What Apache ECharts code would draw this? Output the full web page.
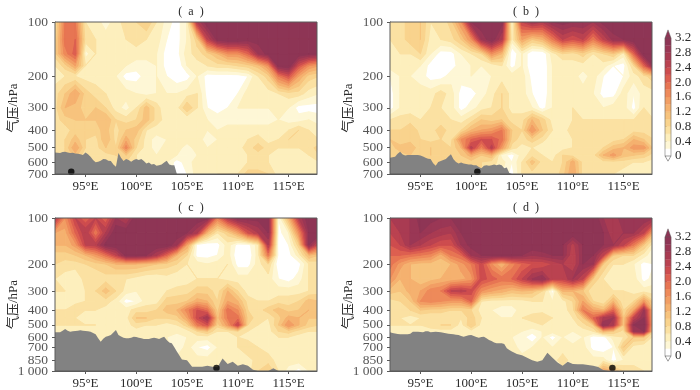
<!DOCTYPE html>
<html>
<head>
<meta charset="utf-8">
<style>html,body{margin:0;background:#fff}#chart{width:700px;height:390px}</style>
<script src="https://cdn.jsdelivr.net/npm/echarts@6/dist/echarts.min.js"></script>
</head>
<body>
<div id="chart"></div>
<script>
const lons=[92,93,94,95,96,97,98,99,100,101,102,103,104,105,106,107,108,109,110,111,112,113,114,115,116,117,118]
const pUpper=[100,125,150,175,200,250,300,350,400,450,500,550,600,700]
const pLower=[100,125,150,175,200,250,300,350,400,450,500,550,600,700,850,1000]
const xTicks=[95,100,105,110,115]
const yTicksUpper=[100,200,300,400,500,600,700]
const yTicksLower=[100,200,300,400,500,600,700,850,1000]
const levels=[0,.2,.4,.6,.8,1,1.2,1.4,1.6,1.8,2,2.2,2.4,2.6,2.8,3]
const bandColors=['#ffffff','#fef7d6','#fdefbd','#fbe1a2','#f9d38d','#f7c37d','#f5b16f','#f29e64','#ee8a5a','#e77553','#dd5f50','#cd4c4e','#ba4250','#a93b52','#9a3755','#8e3555']

// 每行一个气压层，每列一个经度
const gridA=[
[.7,1.8,1.8,.6,.5,.3,.5,.7,.8,1.0,.6,.3,.1,.4,2.6,3.2,3.2,3.2,3.2,3.2,3.2,3.2,3.2,3.2,3.2,3.2,3.2],
[.8,1.9,2.0,.7,.6,.5,.5,.6,.7,.6,.5,.2,.1,.4,.9,2.4,3.1,3.2,3.2,3.1,3.1,3.2,3.2,3.2,3.2,3.2,3.2],
[.9,1.7,2.1,.3,.6,.4,.4,.4,.5,.5,.4,.1,.1,.5,.7,.9,1.2,1.6,1.6,2,2.8,3.1,3.2,3.2,3.2,3.1,3.0],
[.6,.9,1.4,.6,.5,.4,.4,.4,.3,.3,.4,.1,0,.4,.5,.6,.7,.7,.8,.9,1.1,1.6,3.1,3.2,2.2,1.6,1.4],
[.5,.6,.6,.5,.5,.5,.4,.1,.1,.3,.4,.2,.05,.1,.4,.1,.1,.1,.1,.2,.6,.9,1.8,2.2,1.4,.9,.8],
[.7,1.0,1.4,.9,.7,.6,.5,.5,.4,.3,.4,.4,.4,.5,.6,.1,.05,.1,.2,.5,.5,.5,.6,.7,.7,.5,.4],
[.7,1.2,1.1,.9,1.0,.8,.5,.3,.6,1.1,.7,.4,.5,1.0,.6,.2,.1,.2,.4,.4,.4,.4,.5,.4,.1,.1,.1],
[.7,.9,1.0,1.0,1.0,1.2,.8,.7,.8,1.1,.7,.5,.4,.4,.4,.4,.3,.3,.3,.3,.3,.3,.4,.3,.3,.4,.3],
[.7,.7,.9,.8,.9,1.1,.7,1.0,1.1,.6,.5,.4,.5,.4,.4,.4,.4,.5,.5,.5,.5,.5,.5,.6,.8,.6,.5],
[.6,.8,1.1,.8,.7,1.2,.7,1.3,.9,.5,.3,.4,.5,.5,.5,.3,.4,.5,.5,.6,.7,.5,.6,.8,.6,.6,.6],
[.7,.8,1.4,.8,.7,1.0,.8,1.7,.8,.5,.3,.5,.5,.3,.5,.4,.5,.5,.5,.7,.9,.7,.6,.6,.6,.7,.9],
[.7,.8,1.1,.6,.6,.7,.8,1.0,.6,.5,.4,.5,.4,.3,.4,.4,.5,.5,.5,.6,.7,.6,.5,.5,.5,.6,.8],
[.7,.8,1.0,.6,.6,.7,.7,.8,.6,.5,.4,.4,.1,.3,.5,.5,.5,.5,.5,.6,.6,.6,.5,.5,.5,.5,.6],
[.7,.8,.9,.6,.6,.7,.7,.7,.6,.5,.4,.4,0,.2,.5,.5,.6,.6,.6,.9,.9,.8,.5,.5,.5,.5,.5]
]
const gridB=[
[.8,.7,.9,1.0,.6,.6,.9,1.6,3.0,3.2,3.2,3.1,.3,2.4,2.8,2.6,3.0,3.1,3.0,3.0,2.8,3.1,3.2,3.2,3.2,3.2,3.2],
[.6,.7,.9,1.0,.5,.6,.7,1.0,1.6,2.8,3.2,2.6,.5,1.4,1.0,1.2,1.8,2.4,2.2,2.4,1.8,2.4,2.9,3.0,3.2,3.2,3.2],
[.5,.6,.6,.8,.4,.1,.1,.4,.6,.8,1.6,1.2,0,.4,0,0,.5,.8,.7,.9,.6,.8,1.0,.5,2.0,3.2,3.2],
[.5,.5,.4,.4,.1,0,.1,.3,.4,.4,.4,.6,.1,.4,0,0,.4,.4,.5,.5,.4,.5,.2,.1,.8,2.0,3.1],
[.2,.4,.4,.3,.1,.1,.3,.3,.4,.2,.4,.5,.5,.5,.1,0,.4,.5,.5,.3,.5,.2,0,.2,.5,.7,1.0],
[.1,.4,.5,.5,.5,.7,.5,.1,.1,.3,.5,.8,.5,.5,.2,0,.4,.5,.5,.5,.4,.1,.1,.5,.2,.5,.5],
[.1,.4,.5,.5,.6,.6,.5,.1,.3,.5,.6,.8,.5,.5,.4,.1,.4,.5,.6,.5,.5,.4,.5,.5,.1,.6,.5],
[.6,.7,.7,.6,.6,.7,.6,.5,.7,1.0,.9,1.0,.7,.7,1.2,.9,.5,.5,.6,.6,.6,.6,.6,.6,.6,.6,.6],
[.8,.8,1.0,.7,.7,.9,.7,.8,1.2,1.4,1.5,1.8,1.0,.8,1.6,1.0,.6,.5,.7,.7,.6,.6,.7,.7,.7,.7,.7],
[1.0,.8,.9,.8,.7,.8,.7,1.6,2.0,2.2,2.2,1.9,.9,.7,.9,.7,.4,.5,.6,.6,.7,.7,.7,.8,1.2,1.0,.8],
[.9,1.1,1.2,.8,1.0,.8,.8,1.2,2.5,1.7,2.5,1.5,.7,.5,.6,.4,.5,.5,.6,.6,.7,.8,1.1,1.2,1.5,1.5,.9],
[.8,.9,1.0,.8,1.0,.8,.8,1.0,1.3,1.0,1.2,.3,.1,.5,.7,.6,.5,.8,.7,.6,.7,1.2,1.5,1.1,1.0,.9,.7],
[.8,.8,.9,.8,.8,.8,.8,.8,.9,.8,.7,.5,.2,.6,1.1,.7,.6,.8,1.3,.7,.6,.7,.7,.7,.6,.6,.5],
[.8,.8,.8,.8,.8,.8,.8,.8,.8,.8,.6,.4,.1,.6,.7,.6,.6,.9,1.4,.7,.6,.6,.6,.5,.5,.5,.5]
]
const gridC=[
[2.6,1.6,2.4,2.0,2.4,2.0,2.8,2.5,3.2,3.2,3.2,3.2,3.2,3.2,3.2,3.1,1.8,2.6,3.1,3.1,3.1,3.0,.2,1.2,2.6,3.2,3.2],
[1.4,1.3,2.0,2.6,1.8,2.6,3.2,3.2,3.2,3.2,3.2,3.2,3.2,3.0,2.6,1.2,.6,.9,1.4,2.2,2.6,3.0,.1,.4,1.6,3.0,3.2],
[1.2,1.2,1.5,2.4,2.5,3.1,3.2,3.2,3.2,3.2,3.2,3.2,2.8,1.4,.1,0,.1,.5,.1,.1,.5,2.6,0,.2,.9,3.0,2.2],
[.9,.9,1.0,1.2,1.5,1.9,2.4,3.1,3.1,3.0,2.6,2.0,1.2,.8,.1,.1,.2,.5,0,0,.5,1.8,.1,.1,.5,1.2,1.0],
[.8,.7,.7,.8,.9,1.0,1.2,1.2,1.2,1.1,1.0,.9,.8,.6,.5,.4,.5,.6,.1,.1,.5,.8,0,0,.1,.6,.7],
[.6,.5,.4,.7,.6,.7,.6,.6,.5,.4,.4,.5,.4,.5,.6,.6,.6,.5,.5,.5,.5,.5,.2,.1,.3,.6,.7],
[.6,.6,.5,.6,.8,1.1,.8,.5,.4,.4,.5,.6,.7,.7,.9,.9,.7,1.2,.8,.5,.5,.5,.5,.5,.5,.6,.7],
[.5,.5,.5,.6,.7,.7,.5,.1,.2,.5,.5,.9,.9,1.0,1.3,1.2,.8,1.4,1.2,.7,.6,.6,.7,.7,.8,1.1,1.0],
[.6,.6,.8,.6,.6,.5,.4,.5,.7,.7,.8,1.1,1.2,1.7,2.2,1.9,.9,1.9,1.6,.8,.7,.9,1.1,.9,1.0,1.2,1.1],
[.6,.6,.6,.5,.5,.5,.5,.5,1.0,1.0,.8,.8,.9,1.4,2.3,2.8,1.1,1.8,1.9,.9,.7,.6,.9,1.3,1.2,1.0,1.0],
[.6,.6,.6,.6,.6,.5,.5,.5,.7,.6,.6,.5,.6,.9,1.8,2.2,.9,1.5,2.4,.8,.6,.5,1.0,1.6,1.2,.9,.8],
[.5,.5,.5,.5,.5,.5,.5,.5,.5,.5,.5,.5,.5,.5,.8,1.0,.6,.6,.8,.6,.5,.5,.8,.9,.7,.6,.6],
[.5,.5,.5,.5,.5,.5,.5,.5,.5,.5,.5,.4,.2,.4,.5,.5,.5,.5,.6,.5,.5,.5,.6,.6,.5,.5,.5],
[.5,.5,.5,.5,.5,.5,.5,.5,.5,.5,.5,.5,.2,.5,.2,.1,.4,.5,.6,.8,.6,.5,.5,.5,.5,.5,.5],
[.5,.5,.5,.5,.5,.5,.5,.5,.5,.5,.5,.5,.5,.5,.5,.5,.5,.5,.5,.5,.7,.7,.5,.5,.5,.5,.5],
[.5,.5,.5,.5,.5,.5,.5,.5,.5,.5,.5,.5,.5,.5,.5,.5,.5,.5,.5,.5,.8,1.0,.6,.3,.1,.4,.4]
]
const gridD=[
[2.6,2.6,2.8,3.1,3.1,3.0,3.0,3.1,3.2,3.2,3.2,3.2,3.2,3.2,3.2,3.2,3.2,3.2,3.2,3.2,3.2,2.8,2.6,3.0,2.9,3.0,2.8],
[2.4,2.6,2.8,3.0,2.8,2.7,2.6,3.0,3.2,3.2,3.2,3.2,3.2,3.2,3.2,3.2,3.2,3.2,3.2,3.0,3.1,3.0,2.6,2.8,2.8,2.4,1.2],
[2.2,2.4,2.8,2.6,2.4,2.2,2.2,2.8,3.1,3.2,3.2,3.2,3.2,3.2,3.2,3.2,3.1,3.0,2.5,3.0,3.1,3.0,2.8,2.4,1.8,1.0,.4],
[2.0,2.0,1.9,1.8,1.7,1.3,1.8,2.0,2.8,3.0,3.1,3.1,3.1,3.0,2.8,2.9,3.0,3.0,2.4,3.0,3.0,2.4,1.0,.8,.8,.5,.2],
[1.9,1.5,1.2,1.1,1.1,1.0,1.2,1.5,1.8,2.3,1.6,1.2,1.7,2.0,2.2,2.2,2.4,2.6,2.4,3.0,2.8,1.0,.6,.6,.4,.1,.2],
[1.6,1.2,1.2,1.0,1.1,1.2,1.2,1.3,1.5,2.3,2.1,1.9,2.0,2.4,2.8,3.0,2.4,2.4,2.8,2.4,1.0,.6,.5,.5,.5,.1,.3],
[1.1,1.0,1.3,1.4,1.7,1.8,2.4,2.5,2.3,1.6,1.4,1.3,1.1,1.2,1.1,.8,.1,1.2,1.2,1.0,.6,.6,.6,.6,.5,.5,.5],
[.7,.8,1.0,1.6,1.7,1.6,1.5,1.5,2.0,.6,.5,.5,.5,.5,.6,.6,.4,.5,.8,1.4,.8,.6,1.2,.6,.8,1.5,.8],
[.7,.7,.8,1.0,.9,.9,.8,.8,.8,.5,.4,.3,.3,.5,.5,.5,.4,.5,.7,1.8,1.4,1.2,2.0,.8,1.4,2.8,1.0],
[.6,.6,.5,.6,.6,.6,.6,.6,.9,.6,.4,.4,.4,.6,.7,.8,.6,.4,.6,1.0,2.0,2.6,2.8,1.0,2.4,3.0,1.0],
[.6,.6,.6,.6,.7,.8,.8,.5,1.0,.5,.4,.5,.5,.5,.5,.6,.5,.4,.5,.7,1.0,3.0,2.6,1.0,3.0,3.2,1.0],
[.5,.5,.5,.5,.5,.5,.5,.5,.5,.5,.5,.5,.5,.4,.3,.4,.5,.4,.4,.5,.6,1.2,1.0,.7,2.8,3.0,.8],
[.5,.5,.5,.5,.5,.5,.5,.5,.5,.5,.5,.4,.4,.3,0,.4,.1,.4,.2,.4,.1,.1,.5,.6,1.0,1.0,.5],
[.5,.5,.5,.5,.5,.5,.5,.5,.5,.5,.5,.5,.5,.3,.4,.4,.4,.5,.5,.5,.1,0,.2,1.0,.5,.4,.4],
[.5,.5,.5,.5,.5,.5,.5,.5,.5,.5,.5,.5,.5,.5,.5,.5,.5,.7,.5,.5,.5,.5,.1,.4,.5,.5,.5],
[.5,.5,.5,.5,.5,.5,.5,.5,.5,.5,.5,.5,.5,.5,.5,.5,.5,.5,.5,.5,.5,1.4,1.2,.8,.7,.6,.5]
]

// 地形气压：105°E 以西每 0.25° 一个值
const terrainLonsWest=[92,92.25,92.5,92.75,93,93.25,93.5,93.75,94,94.25,94.5,94.75,95,95.25,95.5,95.75,96,96.25,96.5,96.75,97,97.25,97.5,97.75,98,98.25,98.5,98.75,99,99.25,99.5,99.75,100,100.25,100.5,100.75,101,101.25,101.5,101.75,102,102.25,102.5,102.75,103,103.25,103.5,103.75]
const terrainLonsAB=[...terrainLonsWest,104,118]
const terrainLonsCD=[...terrainLonsWest,104,104.5,105,105.5,106,106.5,107,107.5,108,108.5,109,109.5,110,110.5,111,111.5,112,112.5,113,113.5,114,118]
const terrainA=[531,533,535,528,526,531,535,533,538,540,544,549,531,544,561,585,603,598,590,578,580,590,593,620,637,535,568,593,578,585,598,585,578,585,578,593,611,605,620,615,629,625,620,605,590,620,625,625,700,700]
const terrainB=[568,565,561,540,526,545,553,549,549,549,549,549,553,560,568,575,578,610,629,600,593,585,578,560,544,580,600,611,605,611,615,620,620,625,625,640,651,630,625,630,625,620,625,619,625,650,645,690,700,700]
const terrainC=[559,559,559,545,531,545,553,550,548,545,542,545,548,550,553,565,576,610,643,615,597,590,582,560,540,582,595,606,610,612,606,597,600,606,612,618,618,618,612,606,612,618,606,597,627,650,659,700,747,840,850,937,937,937,925,937,945,827,900,869,925,905,925,980,1000,1000,1000,960,1000,1000]
const terrainD=[559,565,568,573,576,576,576,576,570,553,553,553,556,559,550,550,559,556,553,556,559,562,567,570,573,576,580,582,590,597,590,585,582,590,600,606,600,597,612,627,637,650,659,659,659,665,711,730,747,775,790,820,850,869,850,760,820,880,925,869,900,905,905,914,925,940,985,1000,1000,1000]

const dotLons=[93.6,100.6,107.9,113.9]
const dotPress=[680,680,955,955]
const panelNames=['(  a  )','(  b  )','(  c  )','(  d  )']
const panelLeft=[55,390,55,390]
const panelTop=[22,22,218,218]
const panelHeight=[152,152,153,153]
const panelWidth=262
const serif='"Liberation Serif","Noto Sans CJK SC",serif'
const textColor='#2b2b2b'
const lineColor='#5a5a5a'

function clipCell(pts,vals,level){
    const out=[]
    for(let i=0;i<4;i++){
        const j=(i+1)%4
        const a=pts[i],b=pts[j],va=vals[i],vb=vals[j]
        if(va>=level) out.push(a)
        if((va>=level)!==(vb>=level)){
            const t=(level-va)/(vb-va)
            out.push([a[0]+(b[0]-a[0])*t,a[1]+(b[1]-a[1])*t])
        }
    }
    return out
}
function renderCell(params,api){
    const x0=api.value(0),y0=api.value(1),x1=api.value(2),y1=api.value(3)
    const pts=[api.coord([x0,y0]),api.coord([x1,y0]),api.coord([x1,y1]),api.coord([x0,y1])]
    const vals=[api.value(4),api.value(5),api.value(6),api.value(7)]
    const low=Math.min(...vals)
    const children=[]
    levels.forEach((lv,i)=>{
        if(i+1<levels.length&&low>=levels[i+1]) return
        const poly=clipCell(pts,vals,lv)
        if(poly.length<3) return
        children.push({type:'polygon',z2:i,shape:{points:poly},style:{fill:bandColors[i],stroke:bandColors[i],lineWidth:1}})
    })
    return {type:'group',children}
}
function cellData(grid,press){
    const res=[]
    for(let j=0;j<press.length-1;j++){
        for(let i=0;i<lons.length-1;i++){
            res.push([lons[i],press[j],lons[i+1],press[j+1],grid[j][i],grid[j][i+1],grid[j+1][i+1],grid[j+1][i]])
        }
    }
    return res
}
function renderFrame(params,api){
    const a=api.coord([api.value(0),api.value(1)]),b=api.coord([api.value(2),api.value(3)])
    return {type:'rect',z2:50,shape:{x:a[0],y:a[1],width:b[0]-a[0],height:b[1]-a[1]},style:{fill:'none',stroke:lineColor,lineWidth:1}}
}
function renderBand(params,api){
    const a=api.coord([0,api.value(0)]),b=api.coord([1,api.value(1)])
    return {type:'rect',shape:{x:a[0],y:b[1],width:b[0]-a[0],height:a[1]-b[1]},style:{fill:bandColors[api.value(2)],stroke:bandColors[api.value(2)],lineWidth:0.3}}
}
function renderBarEnds(params,api){
    const t0=api.coord([0,3.2]),t1=api.coord([1,3.2]),t2=api.coord([.5,3.42])
    const b0=api.coord([0,0]),b1=api.coord([1,0]),b2=api.coord([.5,-.14])
    return {type:'group',children:[
        {type:'polygon',shape:{points:[t0,t1,t2]},style:{fill:bandColors[15],stroke:lineColor,lineWidth:.5}},
        {type:'polygon',shape:{points:[b0,b1,b2]},style:{fill:'#fff',stroke:lineColor,lineWidth:.6}},
        {type:'polyline',shape:{points:[t0,b0]},style:{stroke:lineColor,lineWidth:.5,fill:'none'}},
        {type:'polyline',shape:{points:[t1,b1]},style:{stroke:lineColor,lineWidth:.5,fill:'none'}}
    ]}
}

const chart=echarts.init(document.getElementById('chart'),null,{renderer:'canvas'})
const grids=[],xAxes=[],yAxes=[],series=[],titles=[]
const contourGrids=[gridA,gridB,gridC,gridD]
const terrains=[terrainA,terrainB,terrainC,terrainD]
const terrainLonSets=[terrainLonsAB,terrainLonsAB,terrainLonsCD,terrainLonsCD]

panelNames.forEach((name,k)=>{
    const press=k<2?pUpper:pLower
    const yTicks=k<2?yTicksUpper:yTicksLower
    const pMax=press[press.length-1]
    grids.push({left:panelLeft[k],top:panelTop[k],width:panelWidth,height:panelHeight[k]})
    xAxes.push({
        type:'value',gridIndex:k,min:92,max:117.8,splitLine:{show:false},
        axisLine:{onZero:false,lineStyle:{color:lineColor}},
        axisTick:{length:3,customValues:xTicks,lineStyle:{color:lineColor}},
        axisLabel:{customValues:xTicks,formatter:v=>v+'°E',color:textColor,fontFamily:serif,fontSize:13,margin:6}
    })
    yAxes.push({
        type:'log',gridIndex:k,min:100,max:pMax,inverse:true,splitLine:{show:false},minorTick:{show:false},
        name:'气压/hPa',nameLocation:'middle',nameGap:35,nameRotate:90,
        nameTextStyle:{color:textColor,fontFamily:serif,fontSize:13,padding:[0,20,0,0]},
        axisLine:{onZero:false,lineStyle:{color:lineColor}},
        axisTick:{length:3,customValues:yTicks,lineStyle:{color:lineColor}},
        axisLabel:{show:false}
    })
    titles.push({text:name,left:panelLeft[k]+panelWidth/2,top:panelTop[k]-21,textAlign:'center',textStyle:{color:textColor,fontFamily:serif,fontSize:12,fontWeight:'normal'}})
    series.push({type:'custom',xAxisIndex:k,yAxisIndex:k,renderItem:renderCell,data:cellData(contourGrids[k],press),encode:{x:[0,2],y:[1,3]},clip:true,silent:true,animation:false,z:2})
    series.push({type:'line',xAxisIndex:k,yAxisIndex:k,data:terrainLonSets[k].map((v,i)=>[v,terrains[k][i]]),symbol:'none',lineStyle:{width:0},areaStyle:{color:'#828282',origin:'end',opacity:1},silent:true,animation:false,z:3})
    series.push({type:'scatter',xAxisIndex:k,yAxisIndex:k,data:[[dotLons[k],dotPress[k]]],symbolSize:6.5,itemStyle:{color:'#000'},silent:true,animation:false,z:5,clip:false})
    series.push({type:'custom',xAxisIndex:k,yAxisIndex:k,renderItem:renderFrame,data:[[92,100,117.8,pMax]],encode:{x:[0,2],y:[1,3]},silent:true,animation:false,z:6,clip:false})
    // 600/700、850/1000 靠得太近，轴标签会被隐藏，所以用散点的 label 写
    series.push({
        type:'scatter',xAxisIndex:k,yAxisIndex:k,data:yTicks.map(p=>[92,p]),symbolSize:0,silent:true,animation:false,clip:false,z:7,
        label:{show:true,position:'left',distance:7,formatter:d=>d.value[1]===1000?'1 000':String(d.value[1]),color:textColor,fontFamily:serif,fontSize:13.5}
    })
})

// 两个色标
const barTop=[38,237],barHeight=[118,119]
barTop.forEach((top,n)=>{
    const g=grids.length
    grids.push({left:665,top:top,width:6,height:barHeight[n]})
    xAxes.push({type:'value',gridIndex:g,min:0,max:1,show:false})
    yAxes.push({
        type:'value',gridIndex:g,position:'right',min:0,max:3.2,interval:0.4,splitLine:{show:false},
        axisLine:{show:false},
        axisTick:{length:2,lineStyle:{color:lineColor}},
        axisLabel:{formatter:v=>v===0?'0':v.toFixed(1),color:textColor,fontFamily:serif,fontSize:13,margin:4}
    })
    const bands=levels.map((lv,i)=>[lv,i+1<levels.length?levels[i+1]:3.2,i])
    series.push({type:'custom',xAxisIndex:g,yAxisIndex:g,renderItem:renderBand,data:bands,encode:{y:[0,1]},silent:true,animation:false,clip:false})
    series.push({type:'custom',xAxisIndex:g,yAxisIndex:g,renderItem:renderBarEnds,data:[[0]],silent:true,animation:false,clip:false,z:4})
})

chart.setOption({animation:false,backgroundColor:'#fff',title:titles,grid:grids,xAxis:xAxes,yAxis:yAxes,series:series})
</script>
</body>
</html>
